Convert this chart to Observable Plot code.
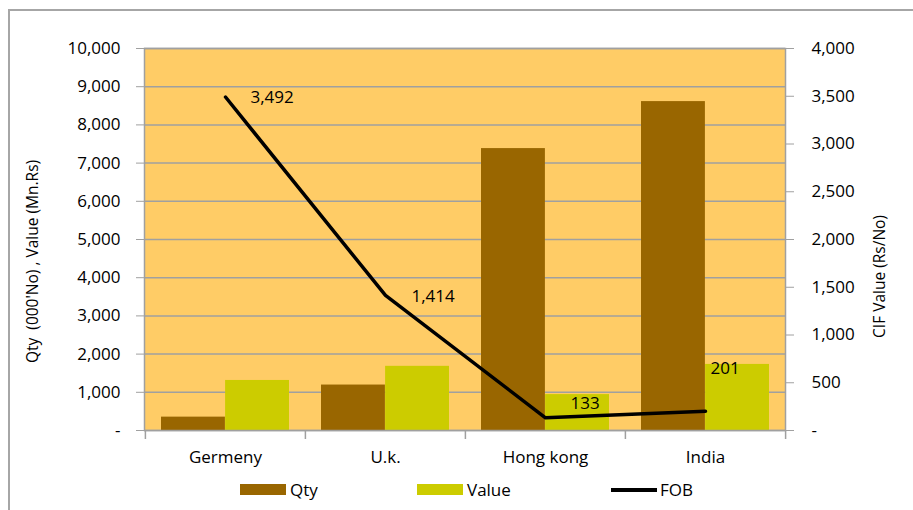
<!DOCTYPE html>
<html>
<head>
<meta charset="utf-8">
<script src="https://cdn.jsdelivr.net/npm/d3@7"></script>
<script src="https://cdn.jsdelivr.net/npm/@observablehq/plot@0.6"></script>
<style>
  html, body { margin: 0; padding: 0; background: #fff; }
  #wrap { position: relative; width: 913px; height: 510px; font-family: "Open Sans", sans-serif; color: #000; overflow: hidden; }
  #border { position: absolute; left: 8px; top: 9px; right: -2px; bottom: -2px; border-left: 2px solid #a6a6a6; border-top: 2px solid #a6a6a6; }
  #chart { position: absolute; left: 0; top: 0; }
  .legend { position: absolute; top: 478px; font-size: 17px; display: flex; align-items: center; }
  .sw { width: 46px; height: 11px; margin-right: 4px; }
  .ln { width: 46px; height: 4px; background: #000; margin-right: 3px; }
</style>
</head>
<body>
<div id="wrap">
  <div id="border"></div>
  <div id="chart"></div>
</div>
<script>
const countries = ["Germeny", "U.k.", "Hong kong", "India"];
const qty = [350, 1190, 7380, 8610];
const value = [1310, 1680, 940, 1730];
const fob = [3492, 1414, 133, 201];
const leftTicks = [0, 1000, 2000, 3000, 4000, 5000, 6000, 7000, 8000, 9000, 10000];
const rightTicks = [0, 500, 1000, 1500, 2000, 2500, 3000, 3500, 4000];
const seriesNames = ["Qty", "Value", "FOB"];
const colors = ["#996600", "#CCCC00", "#000000"];

const LEFT_MAX = 10000, RIGHT_MAX = 4000;
const k = LEFT_MAX / RIGHT_MAX;
const fmt = v => v === 0 ? "-" : d3.format(",")(v);

const rows = countries.map((c, i) => ({country: c, qty: qty[i], value: value[i], fob: fob[i], fobScaled: fob[i] * k}));

// label offsets (style only)
const labelOffsets = [[25, 1], [26, 1], [25, -14], [5, -43]];

const font = "Open Sans, sans-serif";

const chart = Plot.plot({
  width: 913,
  height: 470,
  marginLeft: 144,
  marginRight: 128,
  marginTop: 48,
  marginBottom: 40,
  style: {fontFamily: font, fontSize: "17px", background: "transparent", overflow: "visible"},
  x: {type: "band", domain: countries, paddingInner: 0.2, paddingOuter: 0.1},
  y: {domain: [0, LEFT_MAX]},
  marks: [
    Plot.frame({fill: "#FFCC66"}),
    Plot.gridY(leftTicks, {stroke: "#a0a0a0", strokeOpacity: 1, strokeWidth: 1.5}),
    Plot.barY(rows, {x: "country", y: "qty", fill: colors[0], insetRight: 64.1, insetLeft: 0}),
    Plot.barY(rows, {x: "country", y: "value", fill: colors[1], insetLeft: 64.1, insetRight: 0}),
    Plot.frame({stroke: "#a0a0a0", strokeWidth: 1.5}),
    Plot.ruleX(rows, {x: "country", y1: 0, y2: 0, dx: -80.1, insetBottom: -9, stroke: "#a0a0a0", strokeWidth: 1.5}),
    Plot.ruleX(rows.slice(-1), {x: "country", y1: 0, y2: 0, dx: 80.1, insetBottom: -9, stroke: "#a0a0a0", strokeWidth: 1.5}),
    Plot.line(rows, {x: "country", y: "fobScaled", stroke: colors[2], strokeWidth: 3.5}),
    ...rows.map((r, i) => Plot.text([r], {
      x: "country", y: "fobScaled", text: d => d3.format(",")(d.fob),
      textAnchor: "start", dx: labelOffsets[i][0], dy: labelOffsets[i][1], fontSize: 17, fill: "#000"
    })),
    Plot.axisY(leftTicks, {anchor: "left", tickSize: 8, tickPadding: 16, tickFormat: fmt, stroke: "#a0a0a0", fontSize: 17, label: null}),
    Plot.axisY(rightTicks.map(v => v * k), {anchor: "right", tickSize: 8, tickPadding: 18, tickFormat: v => fmt(Math.round(v / k)), stroke: "#a0a0a0", fontSize: 17, label: null}),
    Plot.axisX({tickSize: 0, tickPadding: 20, fontSize: 17, label: null}),
    Plot.text(["Qty  (000'No) , Value (Mn.Rs)"], {frameAnchor: "left", textAnchor: "middle", dx: -111, dy: 22, rotate: -90, fontSize: 15.5, text: d => d}),
    Plot.text(["CIF Value (Rs/No)"], {frameAnchor: "right", textAnchor: "middle", dx: 95, dy: 37, rotate: -90, fontSize: 15.5, text: d => d})
  ]
});
document.getElementById("chart").appendChild(chart);

// legend
const wrap = document.getElementById("wrap");
const legendX = [240, 417, 611];
seriesNames.forEach((name, i) => {
  const item = document.createElement("div");
  item.className = "legend";
  item.style.left = legendX[i] + "px";
  const sw = document.createElement("div");
  sw.className = i === 2 ? "ln" : "sw";
  if (i < 2) sw.style.background = colors[i];
  const t = document.createElement("span");
  t.textContent = name;
  item.appendChild(sw);
  item.appendChild(t);
  wrap.appendChild(item);
});
</script>
</body>
</html>
